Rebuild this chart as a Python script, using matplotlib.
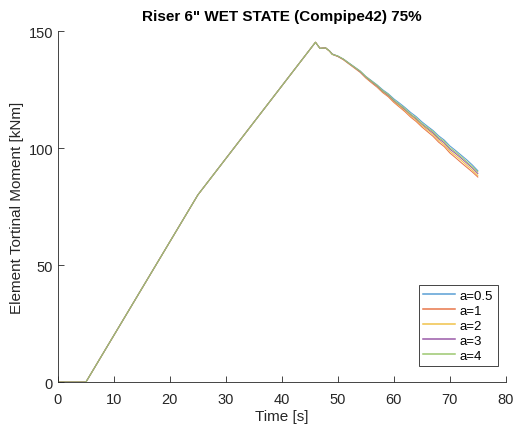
import numpy as np
import matplotlib.pyplot as plt

plt.rcParams['font.family'] = ['Liberation Sans', 'DejaVu Sans']

# common loading ramp (identical for all a)
t_rise = [0, 5, 25, 46]
m_rise = [0, 0, 80, 145.2]

# decay part after the peak
t_dec = [46.8, 47.8, 48.5, 49, 50, 51, 52, 53, 54, 55, 56, 57, 58, 59, 60, 61, 62, 63,
         64, 65, 66, 67, 68, 69, 70, 71, 72, 73, 74, 75]
m_a05 = [142.6, 142.8, 141.5, 140.2, 139.3, 138.0, 136.3, 134.6, 132.9, 130.6, 128.8, 127.0,
         124.9, 123.2, 121.0, 119.2, 117.3, 115.2, 113.4, 111.2, 109.3, 107.5, 105.2, 103.4,
         100.9, 99.0, 97.0, 95.0, 92.8, 90.3]
m_a1 = [142.6, 142.8, 141.4, 140.0, 139.1, 137.7, 135.9, 134.1, 132.3, 129.9, 127.9, 126.0,
        123.7, 121.9, 119.5, 117.5, 115.5, 113.2, 111.3, 109.0, 107.0, 105.0, 102.5, 100.6,
        97.9, 95.9, 93.8, 91.8, 89.8, 87.6]
m_a2 = [142.6, 142.8, 141.4, 140.1, 139.2, 137.8, 136.0, 134.3, 132.5, 130.1, 128.2, 126.3,
        124.0, 122.2, 119.9, 118.0, 116.0, 113.8, 111.9, 109.6, 107.7, 105.8, 103.3, 101.4,
        98.7, 96.8, 94.8, 92.7, 90.6, 88.3]
m_a3 = [142.6, 142.8, 141.5, 140.1, 139.2, 137.9, 136.1, 134.4, 132.6, 130.3, 128.4, 126.5,
        124.3, 122.5, 120.2, 118.4, 116.4, 114.3, 112.4, 110.2, 108.3, 106.4, 104.0, 102.2,
        99.5, 97.7, 95.7, 93.6, 91.5, 89.1]
m_a4 = [142.6, 142.8, 141.5, 140.0, 139.3, 138.0, 136.2, 134.5, 132.8, 130.5, 128.6, 126.8,
        124.5, 122.9, 120.5, 118.6, 116.8, 114.5, 112.8, 110.5, 108.7, 107.0, 104.5, 102.8,
        100.1, 98.3, 96.3, 94.2, 92.0, 89.8]

labels = ['a=0.5', 'a=1', 'a=2', 'a=3', 'a=4']
series = [m_a05, m_a1, m_a2, m_a3, m_a4]
colors = ['#5a9fd4', '#e8764a', '#f0c24a', '#9a5aa8', '#9cc870']

fig = plt.figure(figsize=(5.13, 4.27), dpi=100)
ax = fig.add_axes([0.113, 0.103, 0.873, 0.822])

for lab, m, c in zip(labels, series, colors):
    ax.plot(t_rise + t_dec, m_rise + m, color=c, lw=0.75, label=lab)

ax.set_xlim(0, 80)
ax.set_ylim(0, 150)
ax.set_xticks(range(0, 81, 10))
ax.set_yticks([0, 50, 100, 150])
ax.tick_params(direction='in', length=4, labelsize=10.5, colors='#262626', width=0.6)
ax.tick_params(axis='x', pad=7)
for s in ['top', 'right']:
    ax.spines[s].set_visible(False)
for s in ['left', 'bottom']:
    ax.spines[s].set_color('#262626')
    ax.spines[s].set_linewidth(0.6)

ax.set_xlabel('Time [s]', fontsize=11, color='#262626', labelpad=2)
ax.set_ylabel('Element Tortinal Moment [kNm]', fontsize=11, color='#262626', labelpad=3)
ax.set_title('Riser 6" WET STATE (Compipe42) 75%', fontsize=11, fontweight='bold', pad=8)

leg = ax.legend(loc='lower right', bbox_to_anchor=(0.982, 0.045), fontsize=9.5, fancybox=False,
                edgecolor='#262626', framealpha=1, borderpad=0.35, labelspacing=0.2,
                handlelength=2.4, handletextpad=0.35, borderaxespad=0)
leg.get_frame().set_linewidth(0.6)
for h in leg.get_lines():
    h.set_linewidth(1.1)

fig.savefig('out.png', dpi=100)
